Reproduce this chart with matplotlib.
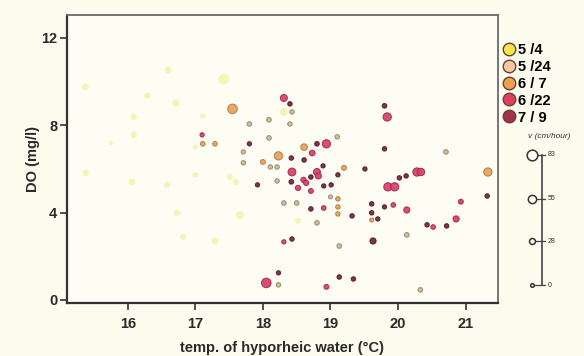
import numpy as np
import matplotlib.pyplot as plt
from matplotlib.lines import Line2D

# ---- survey data: temperature (°C), DO (mg/l), flow v (cm/hour) ----
# 5/4
t_0504 = [15.37, 16.60, 17.42, 16.29, 16.71, 16.09, 17.11, 16.09, 17.00, 15.75,
          15.38, 16.06, 16.58, 17.00, 17.51, 17.60, 16.73, 17.66, 16.82, 17.29,
          18.31, 18.52]
do_0504 = [9.76, 10.54, 10.12, 9.35, 9.02, 8.38, 8.43, 7.56, 7.00, 7.20,
           5.82, 5.41, 5.27, 5.73, 5.63, 5.41, 3.99, 3.89, 2.89, 2.70,
           8.61, 3.62]
v_0504 = [35, 35, 83, 30, 40, 35, 25, 35, 15, 10,
          35, 35, 30, 25, 30, 30, 35, 50, 30, 35,
          50, 25]

# 5/24
t_0524 = [17.80, 18.09, 18.09, 17.71, 18.43, 18.40, 19.10, 18.11, 18.21, 18.21,
          17.71, 20.71, 18.31, 18.50, 18.80, 19.13, 20.13, 20.33, 18.23, 19.00]
do_0524 = [8.06, 8.25, 7.42, 6.78, 8.61, 8.06, 7.47, 6.09, 6.09, 5.45,
           6.28, 6.78, 4.44, 4.44, 3.53, 2.47, 2.98, 0.46, 0.69, 4.72]
v_0524 = [12, 12, 12, 8, 10, 10, 10, 10, 10, 10,
          10, 12, 12, 12, 12, 12, 12, 12, 10, 5]

# 6/7
t_0607 = [17.55, 17.11, 17.29, 18.23, 18.00, 18.61, 19.20, 19.11, 19.11, 19.11,
          19.61, 21.33]
do_0607 = [8.75, 7.15, 7.15, 6.60, 6.32, 7.00, 6.05, 4.63, 4.26, 3.94,
           3.66, 5.86]
v_0607 = [70, 12, 12, 55, 15, 35, 15, 10, 10, 10,
          5, 55]

# 6/22
t_0622 = [17.10, 18.31, 19.84, 18.94, 18.73, 18.43, 18.60, 18.52, 18.64, 18.80,
          18.82, 18.71, 18.90, 19.85, 19.95, 20.28, 20.34, 19.93, 20.13, 20.52,
          20.86, 18.05, 18.94, 18.31, 20.93]
do_0622 = [7.56, 9.25, 8.38, 7.15, 6.73, 5.86, 5.50, 5.13, 5.36, 5.86,
           5.68, 4.99, 4.21, 5.18, 5.18, 5.86, 5.86, 4.35, 4.12, 3.34,
           3.71, 0.78, 0.60, 2.66, 4.50]
v_0622 = [8, 40, 55, 55, 25, 50, 20, 20, 20, 40,
          30, 15, 12, 55, 55, 55, 45, 12, 30, 12,
          30, 70, 15, 8, 15]

# 7/9
t_0709 = [17.80, 18.40, 19.80, 19.80, 18.80, 18.42, 18.61, 18.42, 18.71, 18.89,
          18.90, 19.01, 19.11, 19.51, 17.92, 18.71, 19.32, 19.61, 19.61, 19.70,
          19.80, 20.02, 20.12, 20.43, 20.72, 21.32, 19.63, 18.43, 18.23, 19.13,
          19.34]
do_0709 = [7.15, 8.98, 8.89, 6.92, 7.15, 6.50, 6.41, 5.41, 5.63, 6.14,
           5.22, 5.27, 5.73, 6.00, 5.27, 4.17, 3.85, 4.40, 3.99, 3.71,
           4.26, 5.59, 5.68, 3.44, 3.39, 4.76, 2.70, 2.79, 1.24, 1.05,
           0.96]
v_0709 = [8, 10, 12, 10, 12, 10, 10, 12, 10, 8,
          8, 8, 8, 8, 8, 10, 10, 10, 10, 8,
          8, 10, 10, 10, 10, 10, 30, 10, 8, 10,
          10]

dates = ['5 /4', '5 /24', '6 / 7', '6 /22', '7 / 9']
temps = [t_0504, t_0524, t_0607, t_0622, t_0709]
dos = [do_0504, do_0524, do_0607, do_0622, do_0709]
vels = [v_0504, v_0524, v_0607, v_0622, v_0709]

fills = ['#e6ee78', '#c9b38e', '#e3a058', '#d6456a', '#7e2a44']
edges = ['none', '#8c7c62', '#b2743a', '#a2284a', '#4e1828']
alphas = [0.5, 0.85, 0.9, 0.95, 0.95]
leg_fills = ['#f5e650', '#f5c9a2', '#eea052', '#e0405e', '#a43050']

v_ticks = [83, 55, 28, 0]


def v_to_size(v):
    d = 3.6 + 0.085 * np.asarray(v, dtype=float)   # diameter in px
    return (d * 0.72) ** 2


BG = '#fbfbee'
fig = plt.figure(figsize=(5.84, 3.56), dpi=100, facecolor=BG)
plt.rcParams['font.family'] = ['Liberation Sans', 'DejaVu Sans']

ax = fig.add_axes([67 / 584, 1 - 303 / 356, 431 / 584, 288 / 356])
ax.set_facecolor('#fdfdf3')

for t, d, v, fc, ec, a in zip(temps, dos, vels, fills, edges, alphas):
    ax.scatter(t, d, s=v_to_size(v), c=fc, edgecolors=ec, linewidths=0.7,
               alpha=a, zorder=3)

ax.set_xlim(15.10, 21.48)
ax.set_ylim(-0.14, 13.05)
ax.set_xticks([16, 17, 18, 19, 20, 21])
ax.set_yticks([0, 4, 8, 12])
ax.tick_params(direction='out', length=5, width=1.2, colors='#333333',
               labelsize=10.5)
ax.tick_params(axis='x', pad=5)
ax.tick_params(axis='y', pad=2)
for lab in ax.get_xticklabels() + ax.get_yticklabels():
    lab.set_fontweight('bold')
    lab.set_color('#2a2a2a')
for side in ['left', 'bottom']:
    ax.spines[side].set_color('#333333')
    ax.spines[side].set_linewidth(1.6)
for side in ['top', 'right']:
    ax.spines[side].set_color('#6a6a6a')
    ax.spines[side].set_linewidth(1.3)

ax.set_xlabel('temp. of hyporheic water (\u00b0C)', fontsize=10.5,
              fontweight='bold', color='#2a2a2a', labelpad=7)
ax.set_ylabel('DO (mg/l)', fontsize=10.5, fontweight='bold',
              color='#2a2a2a', labelpad=1)

# date legend
handles = [Line2D([], [], ls='none', marker='o', markersize=9,
                  markerfacecolor=fc, markeredgecolor='#6a4030',
                  markeredgewidth=1.0) for fc in leg_fills]
fig.legend(handles, dates, loc='upper left',
           bbox_to_anchor=(497 / 584, 1 - 37 / 356), frameon=False,
           prop={'size': 10.5, 'weight': 'bold'}, handlelength=0.8,
           handletextpad=0.25, labelspacing=0.2, borderaxespad=0)

# flow-velocity size key
kax = fig.add_axes([522 / 584, 1 - 298 / 356, 40 / 584, 156 / 356])
kax.set_facecolor('none')
kax.axis('off')
kax.set_xlim(-1, 3)
kax.set_ylim(-8, 91)
kax.plot([1, 1], [0, 83], color='#444444', lw=1.2)
for v in v_ticks:
    kax.plot([0, 1.3], [v, v], color='#444444', lw=0.9)
    kax.scatter([0], [v], s=v_to_size(v), facecolors='#fdfdf3',
                edgecolors='#333333', linewidths=1.1, zorder=3)
    kax.text(1.6, v, str(v), fontsize=5, va='center', ha='left',
             color='#333333')
fig.text(528 / 584, 1 - 136 / 356, 'v (cm/hour)', fontsize=6,
         style='italic', color='#333333', va='center', ha='left')

fig.savefig('out.png', dpi=100, facecolor=BG)
